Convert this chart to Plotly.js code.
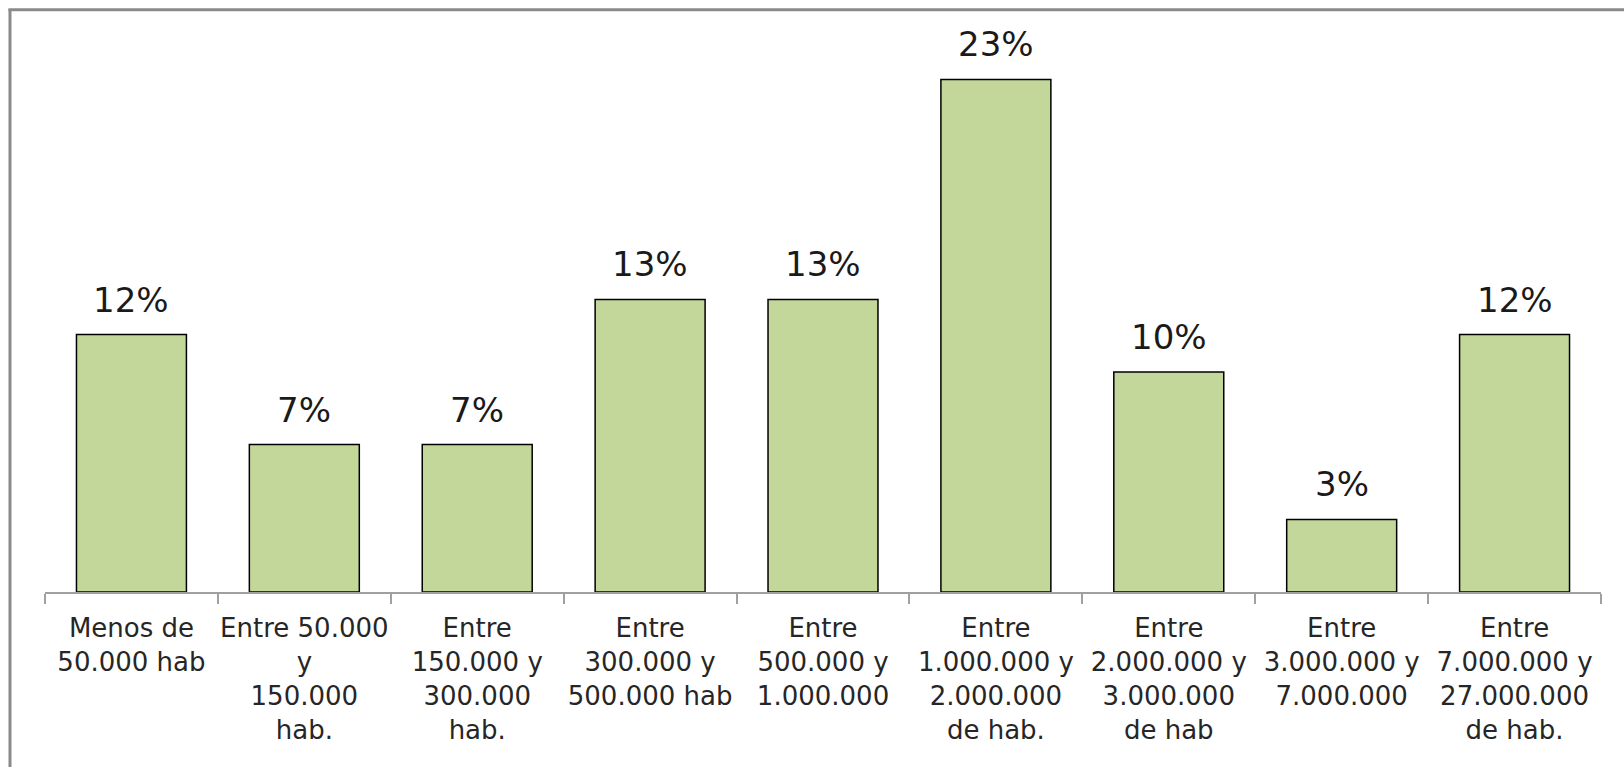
<!DOCTYPE html>
<html>
<head>
<meta charset="utf-8">
<script src="https://cdn.plot.ly/plotly-3.0.1.min.js"></script>
<style>
  html, body { margin: 0; padding: 0; background: #ffffff; }
  #chart { width: 1624px; height: 767px; }
</style>
</head>
<body>
<div id="chart"></div>
<script>
// Categories (tick labels)
const categories = [
  "Menos de<br>50.000 hab",
  "Entre 50.000<br>y<br>150.000<br>hab.",
  "Entre<br>150.000 y<br>300.000<br>hab.",
  "Entre<br>300.000 y<br>500.000 hab",
  "Entre<br>500.000 y<br>1.000.000",
  "Entre<br>1.000.000 y<br>2.000.000<br>de hab.",
  "Entre<br>2.000.000 y<br>3.000.000<br>de hab",
  "Entre<br>3.000.000 y<br>7.000.000",
  "Entre<br>7.000.000 y<br>27.000.000<br>de hab."
];
// Percentage values
const percentages = [11.7, 6.7, 6.7, 13.3, 13.3, 23.3, 10.0, 3.3, 11.7];
// Data labels as shown
const dataLabels = ["12%", "7%", "7%", "13%", "13%", "23%", "10%", "3%", "12%"];

const FONT = "'DejaVu Sans', sans-serif";

const trace = {
  type: "bar",
  x: categories,
  y: percentages,
  marker: { color: "#C4D79B", line: { color: "#000000", width: 1.5 } },
  hoverinfo: "skip"
};

const annotations = categories.map((c, i) => ({
  x: c, y: percentages[i], xref: "x", yref: "y",
  text: dataLabels[i], showarrow: false,
  yanchor: "bottom", yshift: 13,
  font: { family: FONT, size: 34, color: "#1a1a1a" }
}));

const layout = {
  width: 1624, height: 767,
  margin: { l: 45, r: 23, t: 42, b: 175 },
  paper_bgcolor: "#ffffff", plot_bgcolor: "#ffffff",
  bargap: 0.364,
  showlegend: false,
  xaxis: {
    type: "category",
    range: [-0.5, 8.5],
    tickson: "boundaries",
    ticks: "outside", ticklen: 10, tickwidth: 2, tickcolor: "#a0a0a0",
    showline: true, linecolor: "#a0a0a0", linewidth: 2,
    showgrid: false, zeroline: false,
    tickangle: 0,
    ticklabelstandoff: 12,
    tickfont: { family: FONT, size: 26, color: "#262626" }
  },
  yaxis: {
    range: [0, 25], visible: false, showgrid: false, zeroline: false, fixedrange: true
  },
  annotations: annotations,
  shapes: [
    { type: "line", xref: "paper", yref: "paper",
      x0: -0.0225, x1: -0.0225, y0: -0.4, y1: 1.06,
      line: { color: "#8a8a8a", width: 3 } },
    { type: "line", xref: "paper", yref: "paper",
      x0: -0.0235, x1: 1.1, y0: 1.0585, y1: 1.0585,
      line: { color: "#8a8a8a", width: 3 } }
  ]
};

Plotly.newPlot("chart", [trace], layout, { staticPlot: true, displayModeBar: false });
</script>
</body>
</html>
